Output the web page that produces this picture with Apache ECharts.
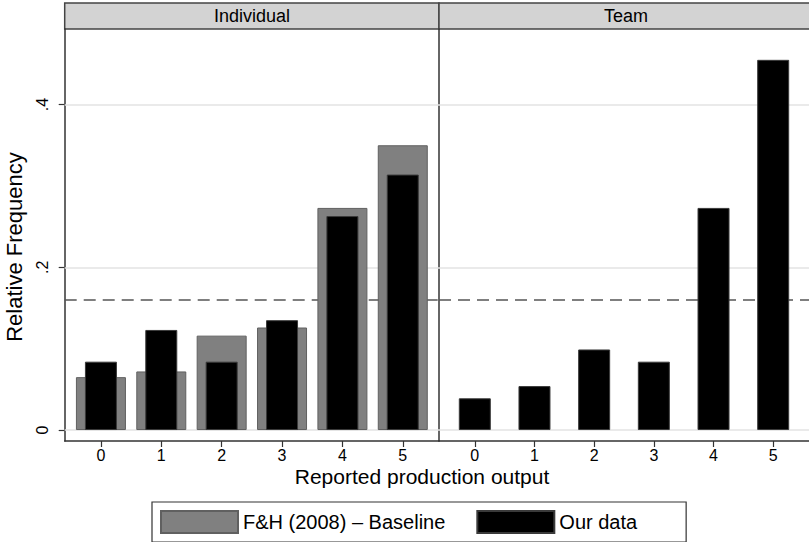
<!DOCTYPE html>
<html><head><meta charset="utf-8">
<script src="https://cdn.jsdelivr.net/npm/echarts@6/dist/echarts.min.js"></script>
<style>html,body{margin:0;padding:0;background:#fff}#c{width:809px;height:542px}</style>
</head><body><div id="c"></div>
<script>
const categories = [0, 1, 2, 3, 4, 5];
const panels = ['Individual', 'Team'];
const fhBaseline = [0.065, 0.072, 0.116, 0.126, 0.273, 0.350];
const ourIndividual = [0.084, 0.123, 0.084, 0.135, 0.263, 0.314];
const ourTeam = [0.039, 0.054, 0.099, 0.084, 0.273, 0.455];
const yTicks = [0, 0.2, 0.4];
const yTickLabels = ['0', '.2', '.4'];
const referenceLine = 0.16;
const seriesNames = ['F&H (2008) – Baseline', 'Our data'];
const xTitle = 'Reported production output';
const yTitle = 'Relative Frequency';

const FONT = 'Liberation Sans, Arial, Helvetica, sans-serif';
const AX = '#333';
const X_MIN = -0.6, X_MAX = 5.6, Y_MIN = -0.0135, Y_MAX = 0.4929;

const grids = [
  { left: 64.7, top: 29, width: 374.3, height: 412 },
  { left: 439, top: 29, width: 374, height: 412 }
];

function mainX(g) {
  return {
    type: 'value', gridIndex: g, min: X_MIN, max: X_MAX,
    axisLine: { show: true, onZero: false, lineStyle: { color: AX, width: 1.5 } },
    axisTick: { show: true, customValues: categories, length: 6, lineStyle: { color: AX, width: 1.2 } },
    axisLabel: { customValues: categories, fontSize: 16, color: '#000', margin: 6, fontFamily: FONT },
    splitLine: { show: false }
  };
}
function hiddenX(g) {
  return { type: 'value', gridIndex: g, min: X_MIN, max: X_MAX, show: false, splitLine: { show: false } };
}
function yAx(g) {
  const first = g === 0;
  return {
    type: 'value', gridIndex: g, min: Y_MIN, max: Y_MAX,
    axisLine: { show: true, onZero: false, lineStyle: { color: AX, width: 1.5 } },
    axisTick: { show: first, customValues: yTicks, length: 6, lineStyle: { color: AX, width: 1.2 } },
    axisLabel: {
      show: first, customValues: yTicks, rotate: 90, fontSize: 16, color: '#000', margin: 14, fontFamily: FONT,
      formatter: function (v) { const i = yTicks.findIndex(t => Math.abs(t - v) < 1e-9); return i >= 0 ? yTickLabels[i] : ''; }
    },
    splitLine: { show: false },
    name: first ? yTitle : '',
    nameLocation: 'middle', nameGap: 39,
    nameTextStyle: { fontSize: 22, color: '#000', fontFamily: FONT, padding: [0, 24, 0, 0] }
  };
}
function refLines() {
  return {
    silent: true, symbol: 'none', z: 1, animation: false,
    label: { show: false },
    data: yTicks.map(v => ({ yAxis: v, lineStyle: { color: '#e3e3e3', width: 1.5, type: 'solid' } }))
      .concat([{ yAxis: referenceLine, lineStyle: { color: '#555', width: 1.5, type: [12, 7] } }])
  };
}
function pairs(vals) { return categories.map((c, i) => [c, vals[i]]); }

const grayStyle = { color: '#808080', borderColor: '#606060', borderWidth: 1 };
const blackStyle = { color: '#000000', borderColor: '#3a3a3a', borderWidth: 1 };
const titleText = size => ({ fontSize: size, fontWeight: 'normal', color: '#000', fontFamily: FONT });

const option = {
  animation: false,
  backgroundColor: '#fff',
  textStyle: { fontFamily: FONT },
  grid: grids,
  xAxis: [mainX(0), hiddenX(0), mainX(1), hiddenX(1)],
  yAxis: [yAx(0), yAx(1)],
  title: [
    { text: panels[0], left: 252, top: 7, padding: 0, textAlign: 'center', textStyle: titleText(18) },
    { text: panels[1], left: 626, top: 7, padding: 0, textAlign: 'center', textStyle: titleText(18) },
    { text: xTitle, left: 422, top: 466, padding: 0, textAlign: 'center', textStyle: titleText(21) }
  ],
  graphic: [
    { type: 'rect', z: 0, shape: { x: 64.7, y: 3, width: 374.3, height: 26 }, style: { fill: '#d3d3d3', stroke: '#444', lineWidth: 1.5 } },
    { type: 'rect', z: 0, shape: { x: 439, y: 3, width: 374, height: 26 }, style: { fill: '#d3d3d3', stroke: '#444', lineWidth: 1.5 } }
  ],
  legend: {
    data: seriesNames, left: 152, top: 502, orient: 'horizontal',
    itemWidth: 77, itemHeight: 22, itemGap: 31, padding: [8, 49, 8, 8],
    borderColor: '#333', borderWidth: 1.2, icon: 'rect', selectedMode: false,
    textStyle: { fontSize: 20, color: '#000', fontFamily: FONT }
  },
  series: [
    { name: seriesNames[0], type: 'bar', xAxisIndex: 0, yAxisIndex: 0, barWidth: 50, z: 2,
      itemStyle: grayStyle, data: pairs(fhBaseline), markLine: refLines() },
    { name: seriesNames[1], type: 'bar', xAxisIndex: 1, yAxisIndex: 0, barWidth: 32, z: 3,
      itemStyle: blackStyle, data: pairs(ourIndividual) },
    { name: seriesNames[1], type: 'bar', xAxisIndex: 3, yAxisIndex: 1, barWidth: 32, z: 3,
      itemStyle: blackStyle, data: pairs(ourTeam), markLine: refLines() }
  ]
};
const chart = echarts.init(document.getElementById('c'), null, { renderer: 'svg' });
chart.setOption(option);
</script></body></html>
